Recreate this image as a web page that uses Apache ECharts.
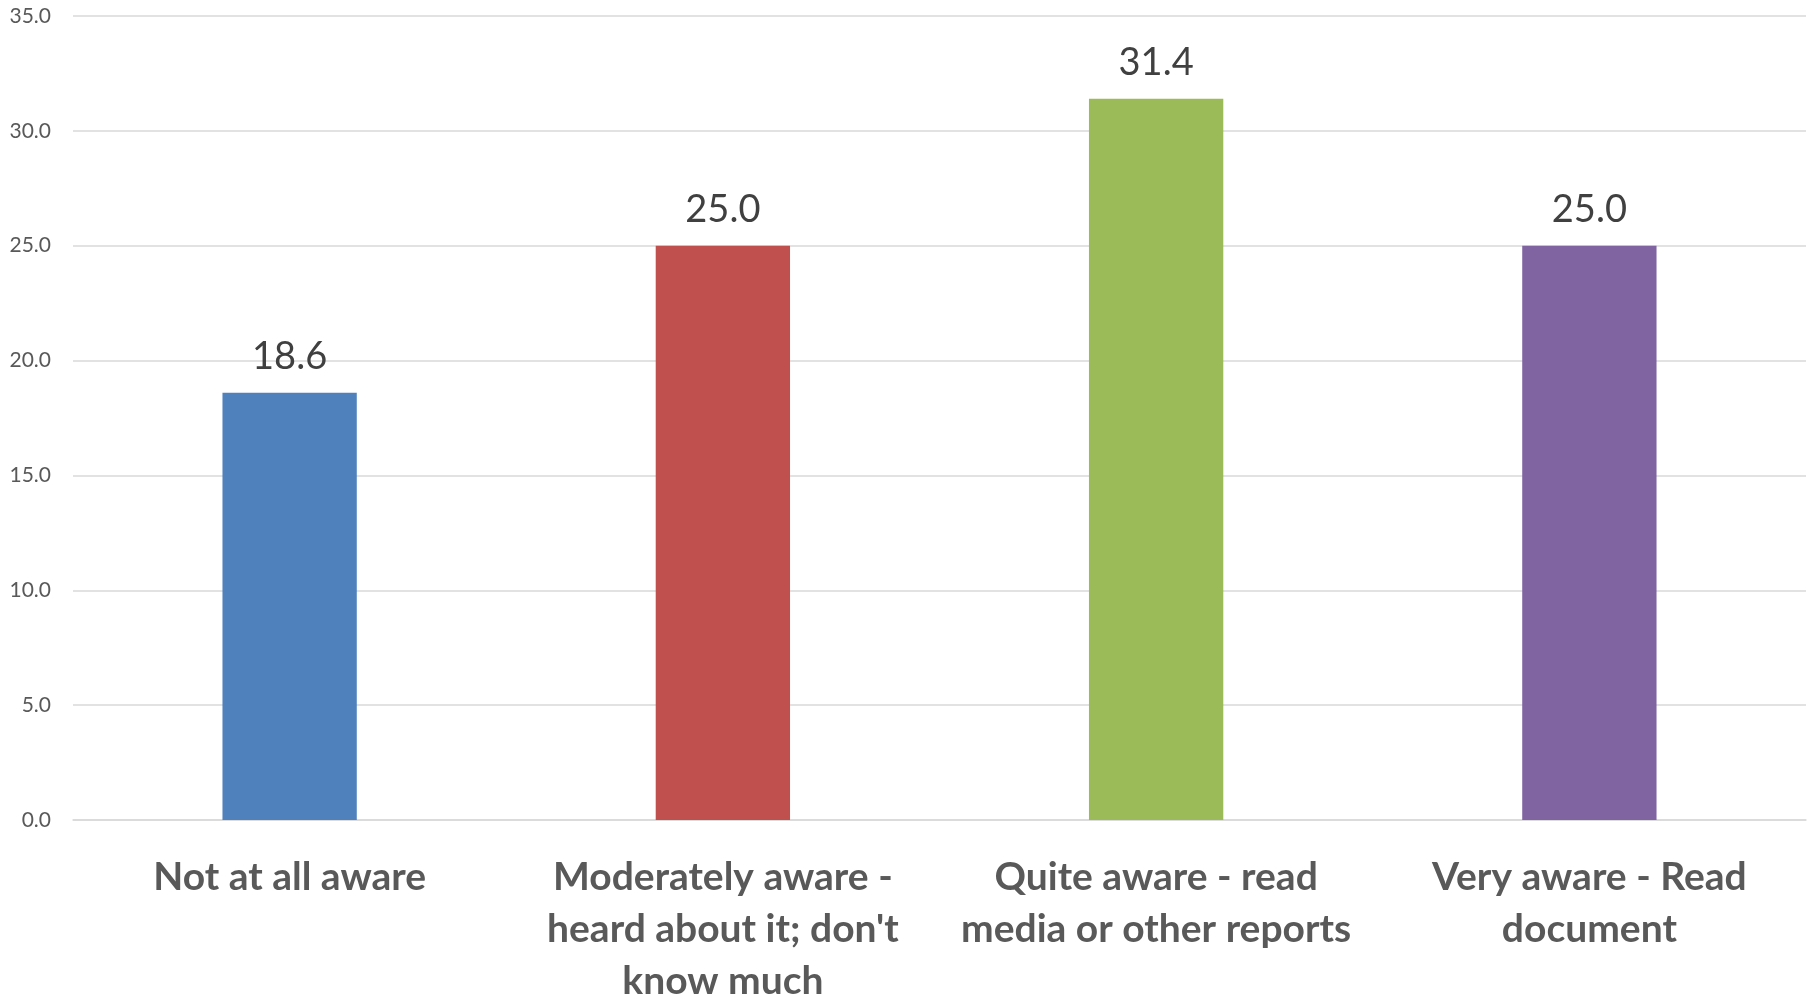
<!DOCTYPE html>
<html>
<head>
<meta charset="utf-8">
<script src="https://cdn.jsdelivr.net/npm/echarts@6/dist/echarts.min.js"></script>
<style>
  html, body { margin: 0; padding: 0; background: #fff; }
  #chart { width: 1816px; height: 998px; }
</style>
</head>
<body>
<div id="chart"></div>
<script>
var categories = [
  'Not at all aware',
  "Moderately aware -\nheard about it; don't\nknow much",
  'Quite aware - read\nmedia or other reports',
  'Very aware - Read\ndocument'
];
var values = [18.6, 25.0, 31.4, 25.0];
var colors = ['#4F81BD', '#C0504D', '#9BBB59', '#8064A2'];

var option = {
  animation: false,
  grid: {
    left: 73,
    right: 10,
    top: 16,
    bottom: 178,
    outerBoundsMode: 'none',
    containLabel: false
  },
  xAxis: {
    type: 'category',
    data: categories,
    axisLine: { lineStyle: { color: '#d9d9d9', width: 1.5 } },
    axisTick: { show: false },
    axisLabel: {
      interval: 0,
      margin: 31,
      color: '#595959',
      fontFamily: 'Lato',
      fontWeight: 'bold',
      fontSize: 39,
      lineHeight: 52
    }
  },
  yAxis: {
    type: 'value',
    min: 0,
    max: 35,
    interval: 5,
    axisLine: { show: false },
    axisTick: { show: false },
    splitLine: { lineStyle: { color: '#d9d9d9', width: 1.5 } },
    axisLabel: {
      margin: 22,
      color: '#595959',
      fontFamily: 'Lato',
      fontSize: 21,
      formatter: function (v) { return v.toFixed(1); }
    }
  },
  series: [
    {
      type: 'bar',
      barWidth: '31%',
      data: values.map(function (v, i) {
        return { value: v, itemStyle: { color: colors[i] } };
      }),
      label: {
        show: true,
        position: 'top',
        distance: 17,
        color: '#404040',
        fontFamily: 'Lato',
        fontSize: 38,
        formatter: function (p) { return p.value.toFixed(1); }
      }
    }
  ]
};

var myChart = echarts.init(document.getElementById('chart'));
myChart.setOption(option, true);
</script>
</body>
</html>
